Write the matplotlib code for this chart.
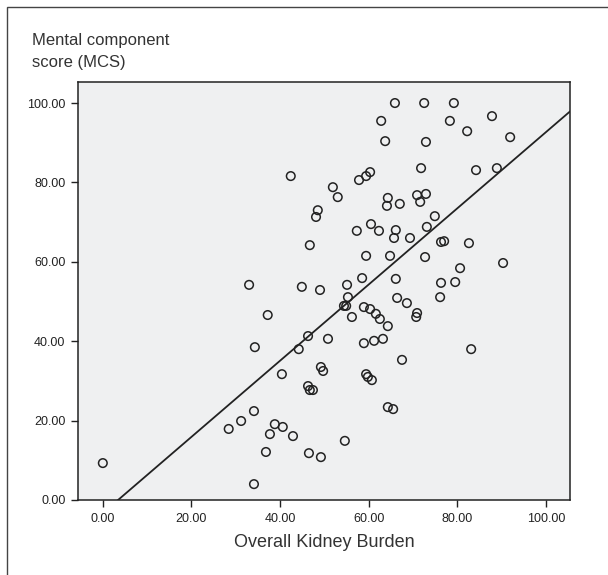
import matplotlib.pyplot as plt
import numpy as np
from matplotlib.patches import Rectangle

plt.rcParams['font.family'] = ['Liberation Sans', 'DejaVu Sans']

# Overall Kidney Burden (x) vs Mental component score (y)
kidney_burden = [
    65.9, 72.5, 79.2, 62.8, 78.3, 87.8, 82.2, 91.9, 63.7, 72.9,
    71.8, 84.2, 88.9, 42.4, 57.8, 59.4, 60.3, 51.9, 53.0, 48.5,
    48.1, 64.3, 64.1, 67.0, 70.9, 72.9, 71.6, 74.9, 60.5, 62.3,
    57.3, 66.1, 65.7, 69.3, 73.1, 76.3, 77.0, 82.6, 46.7, 59.4,
    64.8, 72.7, 90.3, 80.6, 58.5, 66.1, 76.3, 79.5, 76.1, 33.0,
    44.9, 49.0, 55.1, 55.3, 54.4, 54.9, 56.2, 58.9, 60.3, 61.6,
    62.5, 64.3, 66.4, 68.6, 70.9, 70.7, 37.2, 46.3, 44.2, 34.3,
    50.8, 58.9, 61.2, 63.2, 83.1, 67.5, 40.4, 49.2, 49.7, 59.4,
    59.8, 60.7, 46.3, 46.7, 47.4, 64.3, 65.5, 34.1, 31.2, 28.4,
    38.8, 40.6, 37.7, 42.9, 54.6, 36.8, 46.5, 49.2, 34.1, 0.0,
]
mcs = [
    100.0, 100.0, 100.0, 95.5, 95.5, 96.7, 92.9, 91.4, 90.4, 90.2,
    83.6, 83.1, 83.6, 81.6, 80.6, 81.6, 82.6, 78.8, 76.3, 73.0,
    71.3, 76.1, 74.1, 74.6, 76.8, 77.1, 75.1, 71.5, 69.5, 67.8,
    67.8, 68.0, 66.0, 66.0, 68.8, 65.0, 65.2, 64.7, 64.2, 61.5,
    61.5, 61.2, 59.7, 58.4, 55.9, 55.7, 54.7, 54.9, 51.1, 54.2,
    53.7, 52.9, 54.2, 51.1, 48.9, 48.9, 46.1, 48.6, 48.1, 46.9,
    45.6, 43.8, 50.9, 49.6, 47.1, 46.1, 46.6, 41.3, 38.0, 38.5,
    40.6, 39.5, 40.1, 40.6, 38.0, 35.3, 31.7, 33.5, 32.5, 31.7,
    31.0, 30.2, 28.7, 27.7, 27.7, 23.4, 22.9, 22.4, 19.9, 17.9,
    19.1, 18.4, 16.6, 16.1, 14.9, 12.1, 11.8, 10.8, 4.0, 9.3,
]

# fit line as drawn in the original
fit_intercept = -3.3
fit_slope = 0.96

ticks = [0, 20, 40, 60, 80, 100]
tick_labels = ['0.00', '20.00', '40.00', '60.00', '80.00', '100.00']
y_title = ['Mental component', 'score (MCS)']

fig = plt.figure(figsize=(6.08, 5.75), dpi=100)
fig.patch.set_facecolor('white')

# outer chart frame (only left/top visible in the original)
fig.add_artist(Rectangle((7 / 608, -0.1), 1.2, 1 - 7 / 575 + 0.1,
                         transform=fig.transFigure, fill=False,
                         edgecolor='#444444', linewidth=1.0))

ax = fig.add_axes([78 / 608, 1 - 500 / 575, 492 / 608, 418 / 575])
ax.set_facecolor('#eff0f1')

ax.scatter(kidney_burden, mcs, s=38, facecolors='none', edgecolors='#222222',
           linewidths=1.1, zorder=3)

xlim = (-5.6, 105.4)
ylim = (0, 105.3)
xs = np.array(xlim)
ax.plot(xs, fit_intercept + fit_slope * xs, color='#222222', linewidth=1.3, zorder=2)

ax.set_xlim(*xlim)
ax.set_ylim(*ylim)
ax.set_xticks(ticks)
ax.set_xticklabels(tick_labels)
ax.set_yticks(ticks)
ax.set_yticklabels(tick_labels)
ax.tick_params(direction='out', length=5, width=1.0, labelsize=9, colors='#222222', pad=4)

for side in ax.spines.values():
    side.set_color('#222222')
    side.set_linewidth(1.1)

ax.set_xlabel('Overall Kidney Burden', fontsize=13, color='#333333', labelpad=7)

# axis title sits above the plot, two lines
fig.text(32 / 608, 1 - 45 / 575, y_title[0], fontsize=12, color='#333333',
         va='baseline', ha='left')
fig.text(32 / 608, 1 - 67 / 575, y_title[1], fontsize=12, color='#333333',
         va='baseline', ha='left')

fig.savefig('out.png', dpi=100)
